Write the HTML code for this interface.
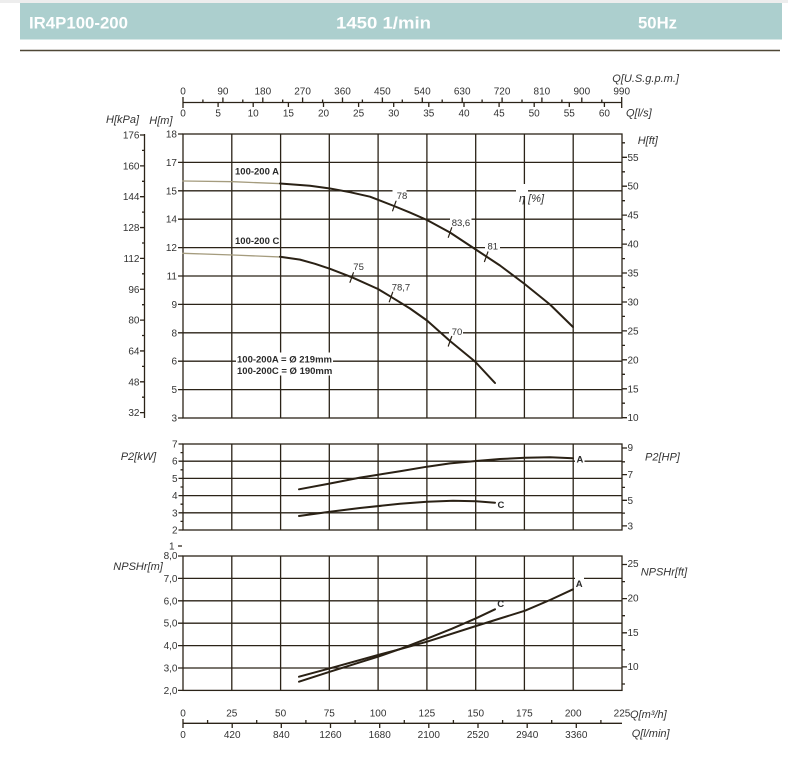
<!DOCTYPE html>
<html><head><meta charset="utf-8"><style>
html,body{margin:0;padding:0;background:#fff;}
svg{display:block;}
text{font-family:"Liberation Sans",Arial,sans-serif;}
</style></head><body>
<svg width="788" height="769" viewBox="0 0 788 769" xmlns="http://www.w3.org/2000/svg">
<rect width="788" height="769" fill="#fff"/>
<rect x="0" y="0" width="788" height="3" fill="#ededed"/>
<rect x="20" y="3" width="762" height="36.5" fill="#accfce"/>
<g fill="#fff" font-weight="bold" font-size="17">
<text x="29" y="28.5" textLength="99" lengthAdjust="spacingAndGlyphs">IR4P100-200</text>
<text x="336" y="28.5" textLength="95" lengthAdjust="spacingAndGlyphs">1450 1/min</text>
<text x="638" y="28.5" textLength="39" lengthAdjust="spacingAndGlyphs">50Hz</text>
</g>
<line x1="20" y1="50.5" x2="780" y2="50.5" stroke="#4f4736" stroke-width="1.5"/>

<!-- GRID -->
<g stroke="#2b2318" stroke-width="1.3" fill="none">
<!-- top panel -->
<rect x="183" y="134" width="439" height="284"/>
<path d="M183 162.4H622M183 190.8H622M183 219.2H622M183 247.6H622M183 276H622M183 304.4H622M183 332.8H622M183 361.2H622M183 389.6H622"/>
<path d="M231.8 134V418M280.6 134V418M329.3 134V418M378.1 134V418M426.9 134V418M475.7 134V418M524.4 134V418M573.2 134V418"/>
<!-- middle panel -->
<rect x="183" y="444" width="439" height="86"/>
<path d="M183 461.2H622M183 478.4H622M183 495.6H622M183 512.8H622"/>
<path d="M231.8 444V530M280.6 444V530M329.3 444V530M378.1 444V530M426.9 444V530M475.7 444V530M524.4 444V530M573.2 444V530"/>
<!-- bottom panel -->
<rect x="183" y="556" width="439" height="134.4"/>
<path d="M183 578.4H622M183 600.8H622M183 623.2H622M183 645.6H622M183 668H622"/>
<path d="M231.8 556V690.4M280.6 556V690.4M329.3 556V690.4M378.1 556V690.4M426.9 556V690.4M475.7 556V690.4M524.4 556V690.4M573.2 556V690.4"/>

<!-- top axis -->
<path d="M183 102.5H621.7"/>
<path d="M183 97V108M222.9 97.5V102.5M262.8 97.5V102.5M302.6 97.5V102.5M342.5 97.5V102.5M382.4 97.5V102.5M422.3 97.5V102.5M462.2 97.5V102.5M502.1 97.5V102.5M541.9 97.5V102.5M581.8 97.5V102.5M621.7 97V108"/>
<path d="M202.9 99.5V102.5M242.8 99.5V102.5M282.7 99.5V102.5M322.6 99.5V102.5M362.4 99.5V102.5M402.3 99.5V102.5M442.2 99.5V102.5M482.1 99.5V102.5M522 99.5V102.5M561.9 99.5V102.5M601.8 99.5V102.5"/>
<path d="M218.1 102.5V107M253.2 102.5V107M288.4 102.5V107M323.5 102.5V107M358.6 102.5V107M393.7 102.5V107M428.8 102.5V107M464 102.5V107M499.1 102.5V107M534.2 102.5V107M569.3 102.5V107M604.4 102.5V107"/>

<!-- bottom axis -->
<path d="M183 723.3H622"/>
<path d="M183 719V728M232.2 723.3V728M281.3 723.3V728M330.5 723.3V728M379.7 723.3V728M428.8 723.3V728M478 723.3V728M527.2 723.3V728M576.3 723.3V728"/>
<path d="M207.6 720V723.3M256.7 720V723.3M305.9 720V723.3M355.1 720V723.3M404.3 720V723.3M453.4 720V723.3M502.6 720V723.3M551.7 720V723.3M600.9 720V723.3"/>

<!-- kPa axis -->
<path d="M144.5 134V418"/>
<path d="M140 135H144.5M140 165.85H144.5M140 196.7H144.5M140 227.55H144.5M140 258.4H144.5M140 289.25H144.5M140 320.1H144.5M140 350.95H144.5M140 381.8H144.5M140 412.65H144.5"/>
<path d="M142 150.4H144.5M142 181.3H144.5M142 212.1H144.5M142 243H144.5M142 273.8H144.5M142 304.7H144.5M142 335.5H144.5M142 366.4H144.5M142 397.2H144.5"/>
<!-- H[m] ticks -->
<path d="M178 134H183M178 162.4H183M178 190.8H183M178 219.2H183M178 247.6H183M178 276H183M178 304.4H183M178 332.8H183M178 361.2H183M178 389.6H183M178 418H183"/>
<!-- ft ticks top -->
<path d="M622 157.3H627M622 186.2H627M622 215.1H627M622 244.1H627M622 273H627M622 302H627M622 330.9H627M622 359.8H627M622 388.8H627M622 417.7H627"/>
<path d="M622 142.8H625M622 171.8H625M622 200.7H625M622 229.6H625M622 258.6H625M622 287.5H625M622 316.4H625M622 345.4H625M622 374.3H625M622 403.2H625"/>
<!-- kW ticks -->
<path d="M178.5 444H183M178.5 461.2H183M178.5 478.4H183M178.5 495.6H183M178.5 512.8H183M178.5 530H183"/>
<path d="M180.5 452.6H183M180.5 469.8H183M180.5 487H183M180.5 504.2H183M180.5 521.4H183"/>
<!-- HP ticks -->
<path d="M622 448H627M622 474.6H627M622 500.3H627M622 525.9H627M622 461.8H625M622 487.4H625M622 513.1H625"/>
<!-- NPSH ticks -->
<path d="M178 556H183M178 578.4H183M178 600.8H183M178 623.2H183M178 645.6H183M178 668H183M178 690.4H183M178 546H182"/>
<path d="M622 564.5H627M622 598.6H627M622 632.8H627M622 666.9H627M622 581.6H625M622 615.7H625M622 649.8H625M622 684H625"/>
</g>

<!-- white label backgrounds -->
<g fill="#fff">
<rect x="516" y="184" width="12" height="12"/>
<rect x="392.5" y="187.5" width="14" height="12.5"/>
<rect x="450" y="215" width="21.5" height="12"/>
<rect x="485" y="240" width="15" height="11"/>
<rect x="449" y="326" width="14" height="10"/>
<rect x="236" y="352.5" width="97" height="23"/>
<rect x="575" y="453" width="9.5" height="10"/>
<rect x="575" y="577" width="9" height="11"/>
</g>

<!-- CURVES -->
<g fill="none" stroke-linejoin="round" stroke-linecap="round">
<polyline stroke="#a59c7e" stroke-width="1.3" points="183,181 233,181.7 285,183.8"/>
<polyline stroke="#2a2115" stroke-width="2" points="280,183.5 310,185.8 330,188.5 350,192.2 370,196.7 394,206 410,212.6 427,220 450,232.5 475,249 500,265.5 524,283.5 550,304.5 573,327"/>
<polyline stroke="#a59c7e" stroke-width="1.3" points="183,253.3 233,255 285,257.2"/>
<polyline stroke="#2a2115" stroke-width="2" points="280,256.7 300,259.6 315,263.8 330,268.8 352,277.3 378,289 391,296.8 410,308.5 427,320.5 450,341 475,361.5 495,383"/>
<polyline stroke="#2a2115" stroke-width="2" points="299,489.3 330,483.5 360,477.6 400,471.3 427,466.7 450,463.4 476,461 500,459 525,457.8 550,457.3 573,458.3"/>
<polyline stroke="#2a2115" stroke-width="2" points="299,516 330,511.7 360,508 400,503.8 427,501.7 453,500.8 476,501.3 495,502.7"/>
<polyline stroke="#2a2115" stroke-width="2" points="299,676.7 330,668.3 378,655 400,649.2 427,641.7 476,626 500,618.5 525,610.7 550,600 573,589.3"/>
<polyline stroke="#2a2115" stroke-width="2" points="299,681.7 330,671.7 378,656.7 400,649 427,638.7 452,628.7 476,618.3 495,609.3"/>
<!-- efficiency marks -->
<g stroke="#2a2115" stroke-width="1.2">
<line x1="392.6" y1="210.8" x2="396" y2="201.2"/>
<line x1="448.3" y1="237.3" x2="451.7" y2="227.7"/>
<line x1="484.5" y1="261.5" x2="487.9" y2="251.9"/>
<line x1="350" y1="282.3" x2="353.4" y2="272.7"/>
<line x1="389.3" y1="301.8" x2="392.7" y2="292.2"/>
<line x1="448.3" y1="346.1" x2="451.7" y2="336.5"/>
</g>
</g>

<!-- TEXT -->
<g fill="#333" font-size="10">
<!-- gpm -->
<g text-anchor="middle">
<text x="183" y="94.3">0</text><text x="222.9" y="94.3">90</text><text x="262.8" y="94.3">180</text><text x="302.6" y="94.3">270</text><text x="342.5" y="94.3">360</text><text x="382.4" y="94.3">450</text><text x="422.3" y="94.3">540</text><text x="462.2" y="94.3">630</text><text x="502.1" y="94.3">720</text><text x="541.9" y="94.3">810</text><text x="581.8" y="94.3">900</text><text x="621.7" y="94.3">990</text>
<text x="183" y="116.3">0</text><text x="218.1" y="116.3">5</text><text x="253.2" y="116.3">10</text><text x="288.4" y="116.3">15</text><text x="323.5" y="116.3">20</text><text x="358.6" y="116.3">25</text><text x="393.7" y="116.3">30</text><text x="428.8" y="116.3">35</text><text x="464" y="116.3">40</text><text x="499.1" y="116.3">45</text><text x="534.2" y="116.3">50</text><text x="569.3" y="116.3">55</text><text x="604.4" y="116.3">60</text>
<!-- bottom -->
<text x="183" y="716.3">0</text><text x="231.8" y="716.3">25</text><text x="280.6" y="716.3">50</text><text x="329.3" y="716.3">75</text><text x="378.1" y="716.3">100</text><text x="426.9" y="716.3">125</text><text x="475.7" y="716.3">150</text><text x="524.4" y="716.3">175</text><text x="573.2" y="716.3">200</text><text x="622" y="716.3">225</text>
<text x="183" y="738">0</text><text x="232.2" y="738">420</text><text x="281.3" y="738">840</text><text x="330.5" y="738">1260</text><text x="379.7" y="738">1680</text><text x="428.8" y="738">2100</text><text x="478" y="738">2520</text><text x="527.2" y="738">2940</text><text x="576.3" y="738">3360</text>
</g>
<!-- kPa -->
<g text-anchor="end">
<text x="139.5" y="138.5">176</text><text x="139.5" y="169.4">160</text><text x="139.5" y="200.2">144</text><text x="139.5" y="231.1">128</text><text x="139.5" y="261.9">112</text><text x="139.5" y="292.8">96</text><text x="139.5" y="323.6">80</text><text x="139.5" y="354.5">64</text><text x="139.5" y="385.3">48</text><text x="139.5" y="416.2">32</text>
<!-- H m -->
<text x="177" y="137.5">18</text><text x="177" y="165.9">17</text><text x="177" y="194.3">15</text><text x="177" y="222.7">14</text><text x="177" y="251.1">12</text><text x="177" y="279.5">11</text><text x="177" y="307.9">9</text><text x="177" y="336.3">8</text><text x="177" y="364.7">6</text><text x="177" y="393.1">5</text><text x="177" y="421.5">3</text>
<!-- kW -->
<text x="177.5" y="447.5">7</text><text x="177.5" y="464.7">6</text><text x="177.5" y="481.9">5</text><text x="177.5" y="499.1">4</text><text x="177.5" y="516.3">3</text><text x="177.5" y="533.5">2</text>
<!-- NPSH m -->
<text x="174.5" y="549.5">1</text>
<text x="177.5" y="559">8,0</text><text x="177.5" y="581.9">7,0</text><text x="177.5" y="604.3">6,0</text><text x="177.5" y="626.7">5,0</text><text x="177.5" y="649.1">4,0</text><text x="177.5" y="671.5">3,0</text><text x="177.5" y="693.9">2,0</text>
</g>
<!-- right labels -->
<text x="627.5" y="160.8">55</text><text x="627.5" y="189.7">50</text><text x="627.5" y="218.6">45</text><text x="627.5" y="247.6">40</text><text x="627.5" y="276.5">35</text><text x="627.5" y="305.5">30</text><text x="627.5" y="334.4">25</text><text x="627.5" y="363.3">20</text><text x="627.5" y="392.3">15</text><text x="627.5" y="421.2">10</text>
<text x="627.5" y="451">9</text><text x="627.5" y="478">7</text><text x="627.5" y="503.8">5</text><text x="627.5" y="529.4">3</text>
<text x="627.5" y="567">25</text><text x="627.5" y="601.5">20</text><text x="627.5" y="636">15</text><text x="627.5" y="670">10</text>
</g>

<!-- axis titles -->
<g fill="#333" font-size="11" font-style="italic">
<text x="612.3" y="82">Q[U.S.g.p.m.]</text>
<text x="626" y="116.5">Q[l/s]</text>
<text x="106" y="123">H[kPa]</text>
<text x="149.3" y="124">H[m]</text>
<text x="637.7" y="144">H[ft]</text>
<text x="519" y="202">η [%]</text>
<text x="120.7" y="460">P2[kW]</text>
<text x="645" y="460.5">P2[HP]</text>
<text x="113.3" y="570">NPSHr[m]</text>
<text x="640.7" y="575.5">NPSHr[ft]</text>
<text x="630" y="718">Q[m³/h]</text>
<text x="631.7" y="737">Q[l/min]</text>
</g>

<!-- curve labels -->
<g fill="#2a2a2a" font-size="9.5" font-weight="bold">
<text x="235" y="174.5">100-200 A</text>
<text x="235" y="244">100-200 C</text>
<text x="237" y="362.5">100-200A = Ø 219mm</text>
<text x="237" y="374">100-200C = Ø 190mm</text>
<text x="576.5" y="462.5">A</text>
<text x="497.5" y="508">C</text>
<text x="575.8" y="587">A</text>
<text x="497.3" y="607">C</text>
</g>
<g fill="#333" font-size="9.5">
<text x="396.7" y="199">78</text>
<text x="451.7" y="226">83,6</text>
<text x="487.5" y="249.3">81</text>
<text x="353.3" y="270">75</text>
<text x="391.7" y="290.5">78,7</text>
<text x="451.7" y="335">70</text>
</g>
</svg>
</body></html>
